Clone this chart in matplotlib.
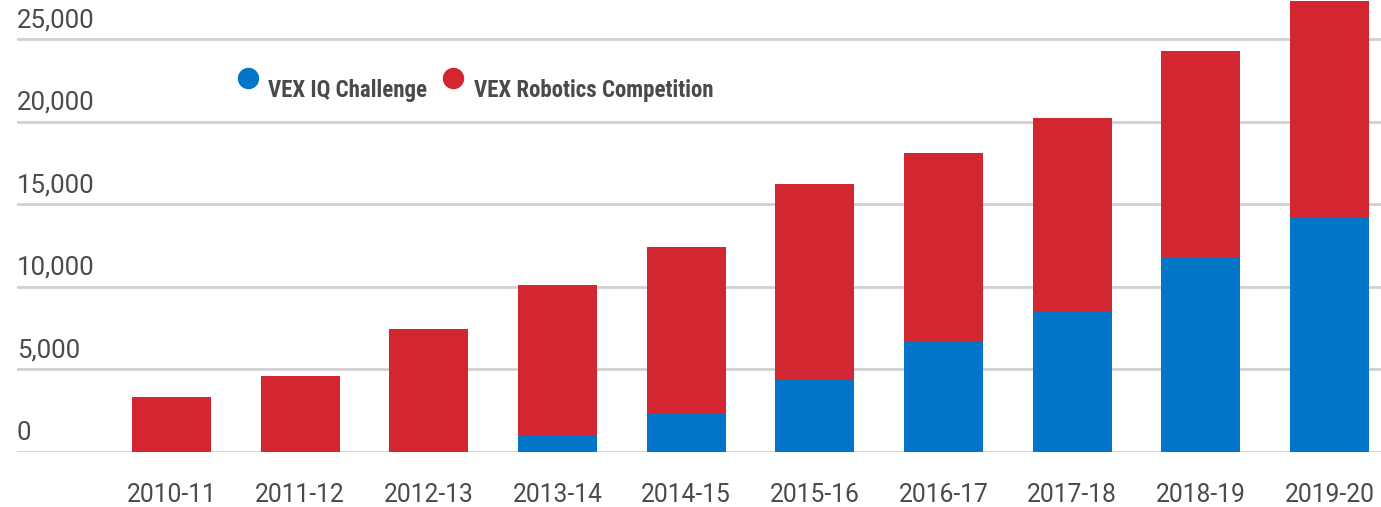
import matplotlib as mpl
mpl.rcParams['font.family'] = ['Roboto', 'DejaVu Sans']

import matplotlib.pyplot as plt
import numpy as np

seasons = ["2010-11", "2011-12", "2012-13", "2013-14", "2014-15",
           "2015-16", "2016-17", "2017-18", "2018-19", "2019-20"]
iq = [0, 0, 0, 1000, 2300, 4400, 6700, 8500, 11700, 14200]
totals = [3300, 4600, 7400, 10100, 12400, 16200, 18100, 20200, 24300, 27300]
vrc = [t - b for t, b in zip(totals, iq)]
yticks = [0, 5000, 10000, 15000, 20000, 25000]

blue = "#0176c9"
red = "#d32631"
grey = "#4a4a4a"

fig = plt.figure(figsize=(13.81, 5.07), dpi=100)
ax = fig.add_axes([17/1381, (507-451.5)/507, 1-17/1381, 451.5/507])

x = np.arange(len(seasons))
ax.bar(x, iq, width=0.615, color=blue, zorder=3)
ax.bar(x, vrc, bottom=iq, width=0.615, color=red, zorder=3)

ax.set_xlim(-1.2, 9.40)
ax.set_ylim(0, 27364)

for v in yticks:
    ax.axhline(v, color="#d0d0d0", lw=2, zorder=1)
    ax.annotate(f"{v:,}", xy=(0, v), xycoords=ax.get_yaxis_transform(),
                xytext=(0, 5), textcoords="offset points",
                ha="left", va="bottom", fontsize=18.5, color=grey)

ax.set_yticks([])
ax.set_xticks(x)
ax.set_xticklabels(seasons, fontsize=17.7, color=grey)
ax.tick_params(axis="x", length=0, pad=22.5)
for s in ax.spines.values():
    s.set_visible(False)

# legend drawn by hand
legend = [("VEX IQ Challenge", blue, 248.3, 268.3),
          ("VEX Robotics Competition", red, 453.3, 474)]
for label, c, cx, tx in legend:
    fig.add_artist(plt.Line2D([cx/1381], [1-78.3/507], marker="o", ms=14.4,
                              color=c, lw=0, transform=fig.transFigure))
    fig.text(tx/1381, 1-96.7/507, label, fontsize=16.5, fontweight="bold",
             family=["Roboto Condensed", "DejaVu Sans"], color=grey,
             ha="left", va="baseline")

fig.savefig("out.png", dpi=100)
